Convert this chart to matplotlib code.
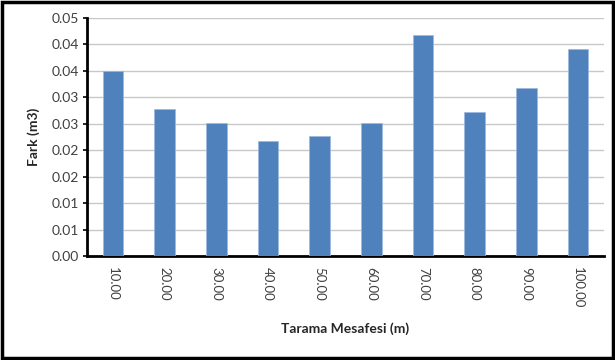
import matplotlib.pyplot as plt
from matplotlib.patches import Rectangle

# scan spacing vs. volume difference
distances = ['10.00', '20.00', '30.00', '40.00', '50.00',
             '60.00', '70.00', '80.00', '90.00', '100.00']
diff = [0.0350, 0.0277, 0.0251, 0.0217, 0.0226,
        0.0252, 0.0418, 0.0272, 0.0318, 0.0391]

y_ticks = [0.000, 0.005, 0.010, 0.015, 0.020, 0.025, 0.030, 0.035, 0.040, 0.045]
y_labels = ['0.00', '0.01', '0.01', '0.02', '0.02', '0.03', '0.03', '0.04', '0.04', '0.05']

plt.rcParams['font.family'] = ['Lato', 'DejaVu Sans']

fig = plt.figure(figsize=(6.15, 3.6), dpi=100)
ax = fig.add_axes([87 / 615, 1 - 256 / 360, (604 - 87) / 615, (256 - 18) / 360])

x = range(len(distances))
ax.bar(x, diff, width=0.4, color='#4F81BD', edgecolor='#9DB9DD', linewidth=0.5, zorder=3)

ax.set_xlim(-0.5, len(distances) - 0.5)
ax.set_ylim(0, 0.045)
ax.set_yticks(y_ticks)
ax.set_yticklabels(y_labels, fontsize=10, color='#404040')
ax.set_xticks(list(x))
ax.set_xticklabels(distances, rotation=-90, fontsize=9.5, color='#404040')
ax.tick_params(axis='x', length=0, pad=8)
ax.tick_params(axis='y', length=3, width=1.2, direction='out', pad=3)

ax.grid(axis='y', color='#C8C8C8', linewidth=1, zorder=0)
for side in ['top', 'right']:
    ax.spines[side].set_visible(False)
for side in ['left', 'bottom']:
    ax.spines[side].set_linewidth(2)
    ax.spines[side].set_color('black')

ax.set_xlabel('Tarama Mesafesi (m)', fontsize=10, fontweight='bold', color='#262626', labelpad=10)
ax.set_ylabel('Fark (m3)', fontsize=10, fontweight='bold', color='#262626', labelpad=8)

# outer frame
fig.patches.append(Rectangle((0.004, 0.006), 0.992, 0.988, transform=fig.transFigure,
                             fill=False, edgecolor='black', linewidth=2.5))

plt.savefig('out.png', dpi=100)
